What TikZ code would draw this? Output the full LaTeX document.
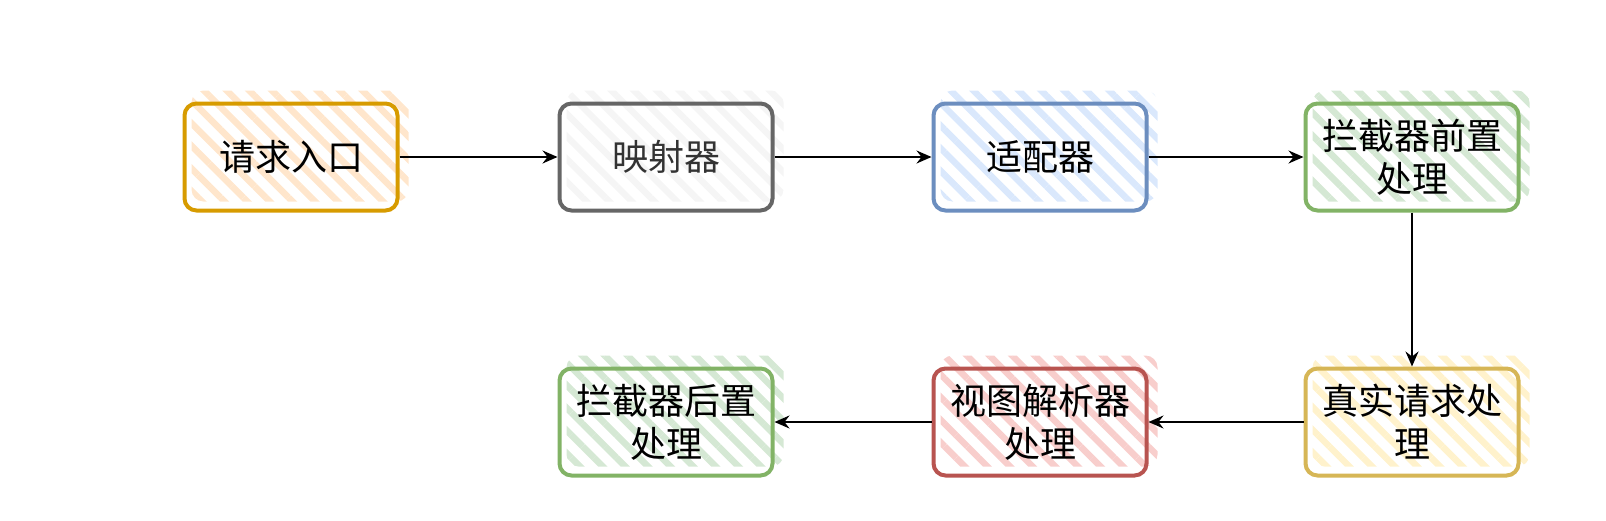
\documentclass[tikz,border=0pt]{standalone}
\usepackage{fontspec}
\setmainfont{Noto Sans CJK SC}
\usetikzlibrary{patterns.meta,arrows.meta,backgrounds}
\definecolor{orF}{HTML}{FFE6CC}\definecolor{orS}{HTML}{D79B00}
\definecolor{grF}{HTML}{F5F5F5}\definecolor{grS}{HTML}{666666}
\definecolor{blF}{HTML}{DAE8FC}\definecolor{blS}{HTML}{6C8EBF}
\definecolor{gnF}{HTML}{D5E8D4}\definecolor{gnS}{HTML}{82B366}
\definecolor{yeF}{HTML}{FFF2CC}\definecolor{yeS}{HTML}{D6B656}
\definecolor{rdF}{HTML}{F8CECC}\definecolor{rdS}{HTML}{B85450}
\definecolor{txt}{HTML}{333333}
\tikzset{
  box/.style={draw, line width=4pt, rounded corners=12pt, minimum width=213pt,
    minimum height=107pt, align=center, text width=200pt, inner sep=0pt,
    font=\fontsize{36}{43}\selectfont},
  arr/.style={-{Stealth[length=15pt,width=13pt,inset=5pt]}, line width=1.7pt, black},
}
\newcommand\hatchfor[2]{%
  \path[rounded corners=12pt, pattern={Lines[angle=-45,distance=16pt,line width=6.5pt]}, pattern color=#2]
    ([shift={(9,-11)}]#1.south west) rectangle ([shift={(9,-11)}]#1.north east);}
\begin{document}
\begin{tikzpicture}[x=1pt,y=-1pt]
\useasboundingbox (0,0) rectangle (1606,520);
\node[box, draw=orS] (n1) at (291,157) {请求入口};
\node[box, draw=grS, text=txt] (n2) at (666,157) {映射器};
\node[box, draw=blS] (n3) at (1040,157) {适配器};
\node[box, draw=gnS] (n4) at (1412,157) {拦截器前置\\处理};
\node[box, draw=yeS] (n5) at (1412,422) {真实请求处\\理};
\node[box, draw=rdS] (n6) at (1040,422) {视图解析器\\处理};
\node[box, draw=gnS] (n7) at (666,422) {拦截器后置\\处理};
\begin{scope}[on background layer]
\hatchfor{n1}{orF}
\hatchfor{n2}{grF}
\hatchfor{n3}{blF}
\hatchfor{n4}{gnF}
\hatchfor{n5}{yeF}
\hatchfor{n6}{rdF}
\hatchfor{n7}{gnF}
\end{scope}
\draw[arr] (n1) -- (n2);
\draw[arr] (n2) -- (n3);
\draw[arr] (n3) -- (n4);
\draw[arr] (n4) -- (n5);
\draw[arr] (n5) -- (n6);
\draw[arr] (n6) -- (n7);
\end{tikzpicture}
\end{document}
